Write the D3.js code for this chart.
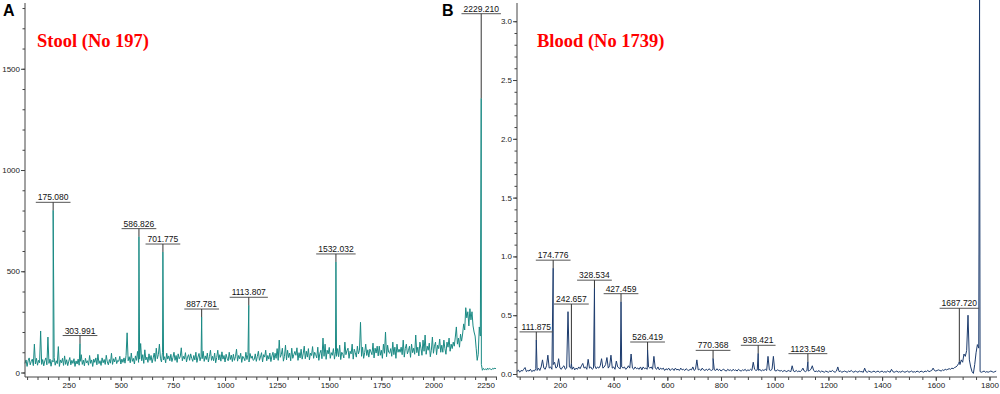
<!DOCTYPE html>
<html>
<head>
<meta charset="utf-8">
<script src="https://cdn.jsdelivr.net/npm/d3@7"></script>
<style>
body { margin: 0; background: #fff; }
svg { display: block; }
text { font-family: Arial, "Liberation Sans", sans-serif; }
</style>
</head>
<body>
<svg width="1000" height="394"></svg>
<script>
// ---- panel A : stool, sampled every 5 m/z from 40 ----
var stoolStart = 40, stoolStep = 5;
var stoolBase = [
  45, 62, 30, 58, 72, 38, 55, 66, 34, 140,
  42, 70, 36, 60, 48, 205, 40, 64, 33, 58,
  72, 38, 175, 45, 66, 31, 60, 52, 74, 36,
  58, 44, 128, 30, 62, 48, 70, 35, 82, 40,
  63, 34, 56, 74, 38, 60, 45, 68, 30, 57,
  42, 66, 36, 55, 88, 40, 61, 33, 70, 47,
  58, 36, 84, 45, 62, 30, 66, 50, 72, 38,
  90, 44, 58, 35, 72, 48, 64, 40, 85, 52,
  38, 64, 46, 95, 40, 68, 52, 76, 44, 60,
  55, 80, 42, 66, 50, 72, 46, 84, 196, 58,
  78, 48, 96, 55, 70, 42, 82, 60, 104, 50,
  66, 143, 58, 88, 45, 112, 62, 76, 50, 92,
  60, 84, 48, 72, 96, 55, 120, 68, 88, 140,
  70, 52, 100, 62, 78, 48, 95, 66, 82, 58,
  90, 54, 74, 100, 60, 84, 50, 92, 68, 78,
  122, 58, 80, 66, 98, 52, 76, 88, 60, 92,
  70, 55, 84, 62, 100, 50, 76, 94, 58, 80,
  68, 105, 55, 82, 64, 96, 52, 78, 110, 60,
  80, 58, 96, 48, 74, 110, 62, 88, 56, 102,
  66, 84, 52, 90, 70, 58, 100, 64, 86, 54,
  90, 60, 78, 115, 56, 84, 68, 95, 50, 80,
  72, 58, 100, 64, 88, 52, 94, 70, 82, 60,
  64, 92, 55, 80, 105, 60, 76, 98, 52, 88,
  76, 110, 58, 84, 66, 96, 54, 82, 100, 62,
  95, 70, 118, 60, 160, 75, 88, 120, 56, 80,
  135, 62, 110, 74, 96, 58, 120, 70, 88, 104,
  85, 122, 60, 98, 72, 115, 66, 92, 130, 68,
  105, 76, 118, 62, 96, 84, 128, 70, 100, 88,
  72, 125, 60, 95, 110, 68, 170, 80, 140, 65,
  110, 92, 124, 70, 98, 85, 118, 66, 102, 80,
  118, 78, 135, 64, 100, 90, 72, 150, 88, 108,
  120, 70, 105, 92, 140, 66, 115, 98, 76, 130,
  92, 110, 248, 80, 125, 70, 98, 140, 84, 112,
  76, 115, 102, 88, 145, 72, 120, 96, 130, 82,
  130, 85, 110, 70, 140, 95, 200, 78, 135, 100,
  95, 118, 80, 150, 88, 125, 70, 140, 100, 115,
  100, 125, 88, 160, 76, 118, 140, 92, 108, 130,
  75, 140, 98, 120, 90, 185, 98, 125, 82, 150,
  120, 85, 160, 105, 185, 90, 130, 110, 145, 78,
  110, 175, 95, 130, 150, 88, 135, 118, 165, 100,
  135, 100, 160, 118, 90, 150, 125, 170, 105, 140,
  118, 150, 130, 175, 225, 140, 170, 125, 190, 155,
  190, 240, 210, 320, 270, 300, 230, 315, 260, 300,
  230, 200, 180, 120, 60, 90, 225, 180, 40, 11,
  20, 14, 18, 12, 22, 15, 20, 16, 14, 21,
  17, 22, 18
];
var stoolPeakMz  = [175.080, 303.991, 586.826, 701.775, 887.781, 1113.807, 1532.032, 2229.210];
var stoolPeakInt = [801, 143, 671, 595, 274, 332, 546, 1354];
var stoolLabelLevel = [null, null, null, null, null, null, null, 1772];
var stoolXTicks = [250, 500, 750, 1000, 1250, 1500, 1750, 2000, 2250];
var stoolYTicks = [0, 500, 1000, 1500];

// ---- panel B : blood, sampled every 5 m/z from 40 ----
var bloodStart = 40, bloodStep = 5;
var bloodBase = [
  .02, .035, .015, .03, .025, .04, .055, .02, .03, .025,
  .04, .02, .03, .025, .045, .03, .05, .03, .06, .12,
  .05, .04, .07, .16, .05, .06, .04, .08, .1, .05,
  .06, .13, .05, .04, .06, .07, .04, .05, .53, .06,
  .05, .04, .06, .035, .05, .04, .06, .045, .07, .09,
  .05, .06, .04, .125, .05, .06, .04, .05, .07, .045,
  .06, .05, .07, .13, .05, .06, .08, .14, .05, .07,
  .16, .05, .06, .04, .11, .06, .05, .045, .06, .05,
  .06, .04, .05, .07, .05, .17, .05, .04, .06, .045,
  .05, .04, .06, .035, .06, .045, .05, .04, .06, .05,
  .06, .04, .15, .05, .04, .06, .035, .05, .04, .05,
  .03, .045, .035, .05, .03, .04, .045, .03, .05, .035,
  .04, .03, .05, .035, .04, .03, .045, .035, .03, .04,
  .035, .06, .03, .04, .12, .035, .04, .03, .05, .035,
  .03, .04, .03, .045, .035, .03, .04, .035, .03, .045,
  .03, .04, .025, .035, .04, .03, .025, .04, .03, .035,
  .025, .04, .03, .035, .025, .04, .03, .025, .035, .03,
  .04, .025, .035, .03, .04, .03, .1, .04, .03, .035,
  .03, .04, .025, .035, .03, .04, .03, .15, .035, .03,
  .04, .15, .03, .025, .035, .03, .025, .03, .02, .03,
  .025, .02, .03, .025, .02, .07, .025, .02, .03, .02,
  .025, .02, .03, .05, .025, .02, .03, .025, .03, .04,
  .07, .03, .02, .025, .02, .03, .015, .025, .02, .015,
  .025, .02, .015, .025, .02, .03, .02, .015, .025, .06,
  .02, .025, .015, .02, .025, .02, .015, .025, .02, .03,
  .02, .015, .025, .02, .015, .025, .02, .02, .015, .05,
  .02, .015, .025, .02, .015, .02, .025, .015, .02, .025,
  .015, .02, .025, .015, .02, .015, .025, .02, .015, .04,
  .02, .015, .02, .025, .015, .02, .015, .025, .02, .015,
  .02, .025, .015, .02, .025, .015, .02, .015, .025, .02,
  .015, .025, .02, .015, .025, .02, .03, .02, .025, .03,
  .05, .03, .025, .03, .035, .03, .025, .035, .03, .04,
  .035, .04, .045, .04, .05, .045, .055, .06, .07, .09,
  .08, .12, .1, .17, .15, .2, .5, .12, .06, .02,
  .005, .08, .18, .25, .22, .02, .015, .02, .025, .015,
  .02, .015, .02, .025, .02, .015, .02, .025
];
var bloodPeakMz  = [111.875, 174.776, 242.657, 328.534, 427.459, 526.419, 770.368, 938.421, 1123.549, 1687.720, 1763];
var bloodPeakInt = [.29, .9, .09, .73, .615, .204, .133, .176, .105, .105, 3.2];
var bloodLabelLevel = [null, null, .595, null, null, null, null, null, null, .559, null];
var bloodLabeled = [true, true, true, true, true, true, true, true, true, true, false];
var bloodXTicks = [200, 400, 600, 800, 1000, 1200, 1400, 1600, 1800];
var bloodYTicks = [0, .5, 1, 1.5, 2, 2.5, 3];

var svg = d3.select("svg");

function panel(o) {
  var x = d3.scaleLinear().domain(o.xDomain).range([o.left, o.right]);
  var y = d3.scaleLinear().domain(o.yDomain).range([o.zeroY, o.top]);
  var g = svg.append("g");

  // trace = sampled baseline + the peaks, sorted by m/z
  var pts = o.base.map(function(v, i) { return [o.start + i * o.step, v]; });
  o.peakMz.forEach(function(m, i) { pts.push([m, o.peakInt[i]]); });
  pts.sort(function(a, b) { return a[0] - b[0]; });

  g.append("path")
    .datum(pts)
    .attr("fill", "none")
    .attr("stroke", o.color)
    .attr("stroke-width", 1)
    .attr("stroke-linejoin", "round")
    .attr("d", d3.line().x(function(d) { return x(d[0]); }).y(function(d) { return y(d[1]); }));

  // axes
  var axisY = 377;
  g.append("g").attr("transform", "translate(0," + axisY + ")")
    .call(d3.axisBottom(x).tickValues(o.xMinor).tickSize(3).tickFormat(""))
    .call(function(s) { s.select(".domain").remove(); });
  g.append("g").attr("transform", "translate(0," + axisY + ")")
    .call(d3.axisBottom(x).tickValues(o.xTicks).tickSize(4).tickPadding(1).tickFormat(d3.format("d")))
    .call(function(s) { s.select(".domain").remove(); });
  g.append("g").attr("transform", "translate(" + o.left + ",0)")
    .call(d3.axisLeft(y).tickValues(o.yMinor).tickSize(2.5).tickFormat(""))
    .call(function(s) { s.select(".domain").remove(); });
  g.append("g").attr("transform", "translate(" + o.left + ",0)")
    .call(d3.axisLeft(y).tickValues(o.yTicks).tickSize(4).tickPadding(1).tickFormat(o.yFormat))
    .call(function(s) { s.select(".domain").remove(); });
  g.selectAll(".tick line").attr("stroke", "#444");
  g.selectAll(".tick text").attr("font-size", 8).attr("fill", "#222");

  g.append("line").attr("x1", o.left).attr("x2", o.left).attr("y1", 3).attr("y2", axisY).attr("stroke", "#444");
  g.append("line").attr("x1", o.left).attr("x2", o.right).attr("y1", axisY).attr("y2", axisY).attr("stroke", "#444");

  // peak labels
  o.peakMz.forEach(function(m, i) {
    if (o.labeled && !o.labeled[i]) return;
    var px = x(m), top = y(o.peakInt[i]);
    var uy = o.labelLevel[i] != null ? y(o.labelLevel[i]) : top - 8;
    var t = g.append("text")
      .attr("x", px).attr("y", uy - 2)
      .attr("text-anchor", "middle")
      .attr("font-size", 8.5)
      .attr("fill", "#111")
      .text(m.toFixed(3));
    var w = t.node().getComputedTextLength();
    g.append("line").attr("x1", px - w / 2 - 2).attr("x2", px + w / 2 + 2)
      .attr("y1", uy).attr("y2", uy).attr("stroke", "#555");
    g.append("line").attr("x1", px).attr("x2", px)
      .attr("y1", uy).attr("y2", top).attr("stroke", "#333");
  });

  svg.append("text")
    .attr("x", o.titleX).attr("y", 47)
    .style("font-family", "'Liberation Serif', 'Times New Roman', serif")
    .style("font-weight", "bold")
    .style("font-size", "18.5px")
    .attr("fill", "#ff0000")
    .text(o.title);
  svg.append("text")
    .attr("x", o.letterX).attr("y", 16)
    .style("font-weight", "bold")
    .style("font-size", "16px")
    .attr("fill", "#000")
    .text(o.letter);
}

panel({
  base: stoolBase, start: stoolStart, step: stoolStep,
  peakMz: stoolPeakMz, peakInt: stoolPeakInt, labelLevel: stoolLabelLevel,
  xDomain: [40, 2305], yDomain: [0, 1815],
  left: 25, right: 497, zeroY: 372.5, top: 5,
  xTicks: stoolXTicks, xMinor: d3.range(50, 2305, 50),
  yTicks: stoolYTicks, yMinor: d3.range(0, 1815, 100),
  yFormat: d3.format("d"),
  color: "#1a8a84",
  title: "Stool (No 197)", titleX: 37,
  letter: "A", letterX: 3
});

panel({
  base: bloodBase, start: bloodStart, step: bloodStep,
  peakMz: bloodPeakMz, peakInt: bloodPeakInt, labelLevel: bloodLabelLevel, labeled: bloodLabeled,
  xDomain: [40, 1828], yDomain: [0, 3.138],
  left: 517, right: 997, zeroY: 374, top: 5,
  xTicks: bloodXTicks, xMinor: d3.range(50, 1828, 50),
  yTicks: bloodYTicks, yMinor: d3.range(0, 31).map(function(i) { return i / 10; }),
  yFormat: d3.format(".1f"),
  color: "#1d3c6e",
  title: "Blood (No 1739)", titleX: 537,
  letter: "B", letterX: 442
});
</script>
</body>
</html>
